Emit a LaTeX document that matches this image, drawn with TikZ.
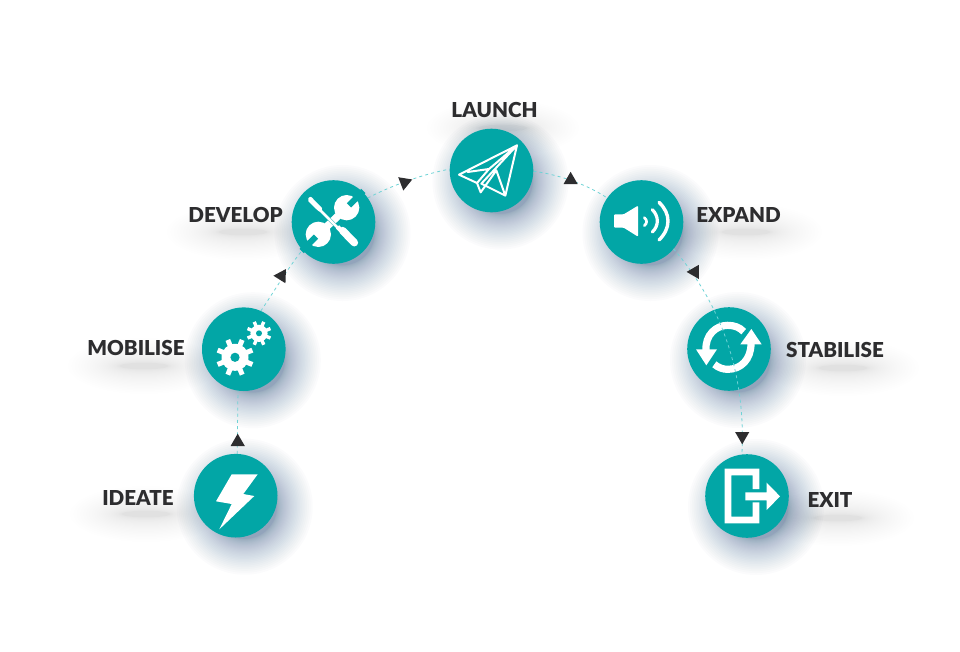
\documentclass[tikz,border=0pt]{standalone}
\usepackage{fontspec}
\setmainfont{Lato}
\newfontfamily\labelfont{Lato Black}
\usetikzlibrary{shapes.geometric}
\definecolor{tealfill}{HTML}{02A6A6}
\definecolor{dashline}{HTML}{6FD3D6}
\definecolor{inkdark}{HTML}{2D2D2F}
\definecolor{shadowblue}{HTML}{3F6290}
\definecolor{shadowgrey}{HTML}{5F7592}
\pgfdeclarelayer{shadowlayer}
\pgfdeclarelayer{connlayer}
\pgfdeclarelayer{toplayer}
\pgfsetlayers{shadowlayer,connlayer,main,toplayer}
\tikzset{
  stagecircle/.style={circle,fill=tealfill,minimum size=83.6pt,inner sep=0pt,outer sep=0pt},
  stagelabel/.style={text=inkdark,font=\labelfont\fontsize{20.6}{20.6}\selectfont,inner sep=0pt},
  flowline/.style={draw=dashline,line width=.8pt,dash pattern=on 3pt off 3.2pt},
  tiptri/.style={regular polygon,regular polygon sides=3,fill=inkdark,minimum size=16.4pt,inner sep=0pt,outer sep=0pt},
  zoomframe/.style={x=.33333pt,y=-.33333pt},
}
\newcommand{\discshadow}[2]{%
  \foreach \i in {1,...,36}{\fill[shadowblue,opacity=.018] (#1+9,#2+11) circle[radius={32+36*(\i/36)*(\i/36)}];}
}
\newcommand{\textshadow}[2]{%
  \foreach \i in {1,...,30}{\fill[shadowgrey,opacity=.005] (#1,#2) ellipse[x radius={24+52*(\i/30)*(\i/30)},y radius={3+25*(\i/30)*(\i/30)}];}
}
\newcommand{\gearicon}[6]{%
  \begin{scope}[shift={(#1,#2)}]
    \fill[white] (0,0) circle[radius=#3];
    \foreach \a in {0,45,...,315}{\draw[white,line width=#6] (\a+22.5:#3-1) -- (\a+22.5:#4);}
    \fill[tealfill] (0,0) circle[radius=#5];
  \end{scope}
}
\begin{document}
\begin{tikzpicture}[x=1pt,y=-1pt]
\useasboundingbox (0,0) rectangle (960,651);

% stages
\node[stagecircle] (ideate) at (235.7,495.7) {};
\node[stagecircle] (mobilise) at (243.8,349.2) {};
\node[stagecircle] (develop) at (333.5,222) {};
\node[stagecircle] (launch) at (491.5,170.5) {};
\node[stagecircle] (expand) at (641.5,222) {};
\node[stagecircle] (stabilise) at (729,349) {};
\node[stagecircle] (exit) at (747,496) {};

% labels
\node[stagelabel] (lideate) at (138,498) {IDEATE};
\node[stagelabel] (lmobilise) at (136,348) {MOBILISE};
\node[stagelabel] (ldevelop) at (235.5,214.5) {DEVELOP};
\node[stagelabel] (llaunch) at (494.5,109.5) {LAUNCH};
\node[stagelabel] (lexpand) at (738.5,214.5) {EXPAND};
\node[stagelabel] (lstabilise) at (835,350) {STABILISE};
\node[stagelabel] (lexit) at (830,500) {EXIT};

% shadows
\begin{pgfonlayer}{shadowlayer}
  \fill[white] (0,0) rectangle (960,651);
  \discshadow{235.7}{495.7}
  \discshadow{243.8}{349.2}
  \discshadow{333.5}{222}
  \discshadow{491.5}{170.5}
  \discshadow{641.5}{222}
  \discshadow{729}{349}
  \discshadow{747}{496}
  \textshadow{146}{514}
  \textshadow{144}{366}
  \textshadow{243}{232}
  \textshadow{503}{128}
  \textshadow{746}{232}
  \textshadow{843}{368}
  \textshadow{838}{518}
\end{pgfonlayer}

% connectors
\begin{pgfonlayer}{connlayer}
  \draw[flowline] (ideate.88) -- (mobilise.262);
  \draw[flowline] (mobilise.66) .. controls (275,290) and (288,268) .. (develop.222);
  \draw[flowline] (develop.35) .. controls (385,189) and (415,176) .. (launch.178);
  \draw[flowline] (launch.359) .. controls (555,174) and (585,183) .. (expand.145);
\end{pgfonlayer}

% arrow tips
\node[tiptri] (tipa) at (237.7,441.9) {};
\node[tiptri,rotate=-32] (tipb) at (281.6,276) {};
\node[tiptri,rotate=-69] (tipc) at (404.6,182.4) {};
\node[tiptri] (tipd) at (570.6,180) {};

% ideate: lightning
\fill[white] (231.7,474.3) -- (257.7,474.3) -- (243.3,494) -- (254.3,496) -- (219.3,529.3) -- (231.7,504) -- (216,501.3) -- cycle;

% mobilise: gears
\gearicon{235}{357.3}{13.5}{18.8}{4.6}{5}
\gearicon{259}{333.3}{8.6}{12.4}{3}{3.4}

% develop: tools
\begin{scope}[shift={(295,185)},zoomframe]
  \fill[white] (155,68) circle[radius=38];
  \draw[tealfill,line width=6pt] (162,61) -- (205,18);
  \fill[white] (70,148) circle[radius=38];
  \draw[tealfill,line width=6pt] (63,155) -- (20,198);
  \draw[white,line width=7.4pt] (130,92) -- (95,125);
  \draw[tealfill,line width=3.4pt] (90,90) -- (122,122);
  \fill[white,rounded corners=2pt] (36,45) -- (46,33) -- (84,72) -- (74,82) -- cycle;
  \draw[white,line width=2.8pt] (75,75) -- (135,135);
  \draw[white,line width=5pt] (128,136) -- (138,126);
  \draw[white,line width=7.6pt,line cap=round] (143,137) -- (178,173);
\end{scope}

% launch: paper plane
\begin{scope}[shift={(453,133)},zoomframe]
  \draw[white,line width=2pt,line join=round,line cap=round]
    (192,37) -- (18,125) -- (72,150) -- (83,178) -- (130,112) -- (157,188) -- (85,152) -- (192,37) -- cycle
    (157,188) -- (192,37)
    (44,117) -- (108,108) -- (192,37)
    (72,150) -- (108,108);
\end{scope}

% expand: speaker
\begin{scope}[shift={(603,185)},zoomframe]
  \fill[white,rounded corners=1pt] (33,88) -- (62,88) -- (105,62) -- (105,155) -- (62,128) -- (33,128) -- cycle;
  \draw[white,line width=2.7pt,line cap=round] (124,98) .. controls (133,106) and (133,114) .. (124,122);
  \draw[white,line width=3.2pt,line cap=round] (148,74) .. controls (168,94) and (168,122) .. (148,141);
  \draw[white,line width=3.4pt,line cap=round] (168,52) .. controls (204,86) and (204,130) .. (168,165);
\end{scope}

% stabilise: refresh
\begin{scope}[shift={(691,311)},zoomframe]
  \draw[white,line width=7.2pt] (45,118) .. controls (42,72) and (75,43) .. (110,43) .. controls (130,43) and (146,49) .. (158,62);
  \fill[white] (15,115) -- (78,115) -- (46,163) -- cycle;
  \draw[white,line width=7.2pt] (70,160) .. controls (82,170) and (96,175) .. (110,175) .. controls (150,175) and (180,145) .. (180,98);
  \fill[white] (148,100) -- (212,100) -- (181,54) -- cycle;
\end{scope}

% exit: door and arrow
\begin{scope}[shift={(660,290)},zoomframe]
  \fill[white] (194,536) -- (298,536) -- (298,597) -- (278,597) -- (278,556) -- (214,556) -- (214,680) -- (278,680) -- (278,637) -- (298,637) -- (298,700) -- (194,700) -- cycle;
  \fill[white] (256,607) -- (320,607) -- (320,578) -- (360,619) -- (320,660) -- (320,631) -- (256,631) -- cycle;
\end{scope}

% long connector over the stabilise circle
\begin{pgfonlayer}{toplayer}
  \draw[flowline] (expand.-40) .. controls (722,305) and (746,375) .. (exit.97);
  \node[tiptri,rotate=90] (tipe) at (694.8,271.9) {};
  \node[tiptri,rotate=180] (tipf) at (742.2,436.1) {};
\end{pgfonlayer}
\end{tikzpicture}
\end{document}
